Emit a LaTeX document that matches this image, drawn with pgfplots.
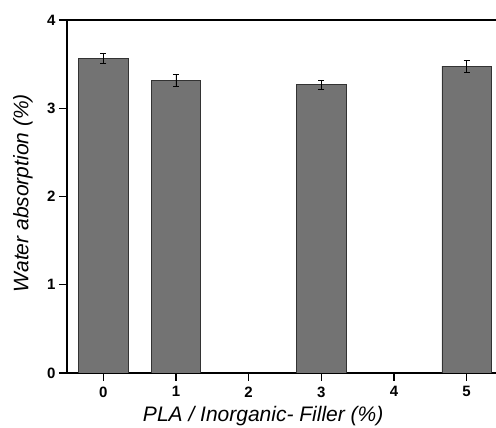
\documentclass[border=0pt]{standalone}
\usepackage{fontspec}
\setmainfont{Liberation Sans}
\usepackage{pgfplots}
\pgfplotsset{compat=1.18}
\begin{document}
\begin{tikzpicture}[x=1pt,y=1pt]
\useasboundingbox (0,0) rectangle (496,428);
\clip (0,0) rectangle (496,428);
\begin{axis}[
  at={(67pt,55pt)}, anchor=south west,
  scale only axis, width=436pt, height=353pt,
  xmin=-0.5, xmax=5.5, ymin=0, ymax=4,
  axis x line*=bottom, axis y line*=left,
  axis line style={line width=1.6pt},
  xtick={0,1,2,3,4,5}, ytick={0,1,2,3,4},
  tick align=outside, major tick length=8pt,
  tick style={line width=1.4pt, black},
  minor tick num=0,
  ticklabel style={font=\fontsize{15}{15}\selectfont\bfseries},
  xticklabel style={yshift=-2pt},
  /pgf/number format/assume math mode=true,
  xlabel={\itshape PLA / Inorganic- Filler (\%)},
  ylabel={\itshape Water absorption (\%)},
  label style={font=\fontsize{21}{21}\selectfont},
  xlabel style={at={(axis description cs:0.45,0)}, anchor=center, yshift=-43.5pt},
  ylabel style={at={(axis description cs:0,0.5)}, anchor=center, yshift=44pt, xshift=3.5pt},
  ybar, bar width=49.5pt,
]
\addplot[draw=black!80, line width=0.8pt, fill=black!55,
  error bars/.cd, y dir=both, y explicit,
  error bar style={black, line width=0.7pt},
  error mark options={rotate=90, mark size=3pt, black, line width=0.7pt}]
  coordinates {
  (0,3.565) +- (0,0.055)
  (1,3.315) +- (0,0.07)
  (3,3.265) +- (0,0.05)
  (5,3.477) +- (0,0.065)
  };
\draw[line width=1.6pt] (rel axis cs:0,1) -- (rel axis cs:1,1);
\end{axis}
\end{tikzpicture}
\end{document}
